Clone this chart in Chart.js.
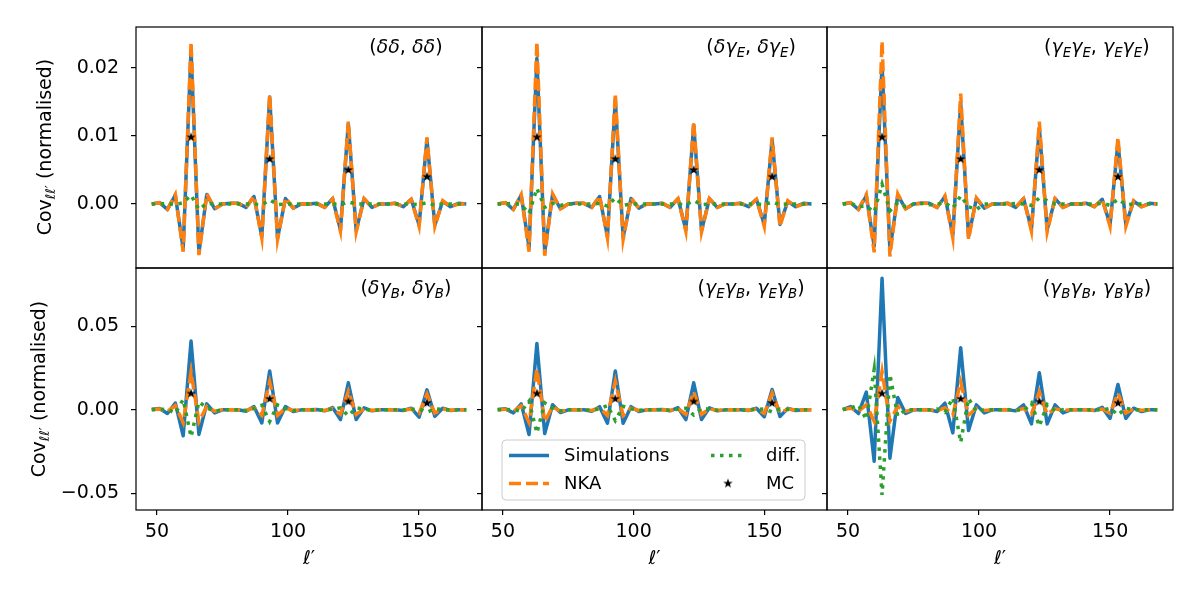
<!DOCTYPE html>
<html>
<head>
<meta charset="utf-8">
<script src="https://cdn.jsdelivr.net/npm/chart.js@4.4.0/dist/chart.umd.min.js"></script>
<style>
  body { margin: 0; background: #fff; }
  #fig { position: relative; width: 1200px; height: 600px; font-family: "DejaVu Sans", sans-serif; color: #000; }
  #fig canvas { position: absolute; left: 0; top: 0; }
  .ptitle, .xlab { position: absolute; font-size: 19px; white-space: nowrap; transform: translate(-50%, -50%); z-index: 10; }
  .ylab { position: absolute; font-size: 19px; white-space: nowrap; transform: translate(-50%, -50%) rotate(-90deg); z-index: 10; }
  sub { font-size: 70%; vertical-align: -0.3em; line-height: 0; }
</style>
</head>
<body>
<div id="fig"></div>
<script>
// multipoles l' (bin centres)
const ell = [48, 51, 54, 57, 60, 63, 66, 69, 72, 75, 78, 81, 84, 87, 90, 93, 96, 99, 102, 105,
  108, 111, 114, 117, 120, 123, 126, 129, 132, 135, 138, 141, 144, 147, 150, 153, 156, 159, 162, 165, 168]

// MC points
const mcEll = [63, 93, 123, 153]
const mcValues = [0.0098, 0.0066, 0.0050, 0.0040]

// (dd, dd)
const simDD = [0.0000, 0.0002, -0.0008, 0.0013, -0.0066, 0.0226, -0.0072, 0.0014, -0.0007, 0.0000,
  0.0001, 0.0001, -0.0005, 0.0011, -0.0048, 0.0157, -0.0050, 0.0008, -0.0006, 0.0000,
  0.0000, 0.0001, -0.0005, 0.0008, -0.0038, 0.0118, -0.0039, 0.0008, -0.0005, 0.0000,
  0.0000, 0.0001, -0.0004, 0.0007, -0.0031, 0.0095, -0.0031, 0.0004, -0.0004, 0.0001, 0.0000]
const nkaDD = [0.0000, 0.0002, -0.0008, 0.0014, -0.0070, 0.0238, -0.0075, 0.0015, -0.0007, 0.0000,
  0.0001, 0.0001, -0.0005, 0.0012, -0.0050, 0.0161, -0.0052, 0.0009, -0.0006, 0.0000,
  0.0000, 0.0001, -0.0005, 0.0008, -0.0040, 0.0121, -0.0041, 0.0008, -0.0005, 0.0000,
  0.0000, 0.0001, -0.0004, 0.0007, -0.0033, 0.0098, -0.0033, 0.0005, -0.0004, 0.0000, 0.0000]
const diffDD = [0.0000, 0.0000, 0.0001, -0.0001, 0.0002, 0.0013, -0.0008, 0.0001, 0.0000, 0.0000,
  0.0000, 0.0000, 0.0000, 0.0000, -0.0001, 0.0006, -0.0001, 0.0000, 0.0000, 0.0000,
  0.0000, 0.0000, 0.0000, 0.0000, -0.0001, 0.0003, 0.0000, 0.0000, 0.0000, 0.0000,
  0.0000, 0.0000, 0.0000, 0.0000, -0.0001, 0.0002, -0.0002, 0.0000, 0.0000, 0.0000, 0.0000]

// (d gE, d gE)
const simDE = [0.0000, 0.0002, -0.0008, 0.0013, -0.0064, 0.0214, -0.0071, 0.0014, -0.0007, 0.0000,
  0.0001, 0.0001, -0.0005, 0.0011, -0.0048, 0.0153, -0.0049, 0.0008, -0.0006, 0.0000,
  0.0000, 0.0001, -0.0005, 0.0008, -0.0038, 0.0116, -0.0039, 0.0008, -0.0005, 0.0000,
  0.0000, 0.0001, -0.0004, 0.0007, -0.0030, 0.0094, -0.0030, 0.0004, -0.0004, 0.0001, 0.0000]
const nkaDE = [0.0000, 0.0002, -0.0008, 0.0014, -0.0070, 0.0238, -0.0076, 0.0015, -0.0007, 0.0000,
  0.0001, 0.0001, -0.0005, 0.0012, -0.0050, 0.0162, -0.0052, 0.0009, -0.0006, 0.0000,
  0.0000, 0.0001, -0.0005, 0.0008, -0.0040, 0.0121, -0.0041, 0.0008, -0.0005, 0.0000,
  0.0000, 0.0001, -0.0004, 0.0007, -0.0033, 0.0098, -0.0033, 0.0005, -0.0004, 0.0000, 0.0000]
const diffDE = [0.0000, 0.0000, 0.0001, -0.0001, -0.0014, 0.0023, -0.0005, 0.0001, -0.0002, 0.0000,
  0.0000, 0.0000, 0.0000, 0.0001, -0.0003, 0.0009, -0.0002, 0.0000, 0.0000, 0.0000,
  0.0000, 0.0000, 0.0000, 0.0000, -0.0001, 0.0005, -0.0001, 0.0000, 0.0000, 0.0000,
  0.0000, 0.0000, 0.0000, 0.0000, -0.0001, 0.0003, -0.0001, 0.0000, 0.0000, 0.0000, 0.0000]

// (gE gE, gE gE)
const simEE = [0.0000, 0.0002, -0.0008, 0.0012, -0.0062, 0.0205, -0.0068, 0.0013, -0.0007, 0.0000,
  0.0001, 0.0001, -0.0005, 0.0011, -0.0046, 0.0148, -0.0048, 0.0008, -0.0006, 0.0000,
  0.0000, 0.0001, -0.0005, 0.0008, -0.0037, 0.0112, -0.0038, 0.0008, -0.0005, 0.0000,
  0.0000, 0.0001, -0.0004, 0.0007, -0.0030, 0.0091, -0.0030, 0.0004, -0.0004, 0.0001, 0.0000]
const nkaEE = [0.0000, 0.0002, -0.0008, 0.0014, -0.0071, 0.0239, -0.0077, 0.0015, -0.0007, 0.0000,
  0.0001, 0.0001, -0.0005, 0.0012, -0.0050, 0.0162, -0.0052, 0.0009, -0.0006, 0.0000,
  0.0000, 0.0001, -0.0005, 0.0008, -0.0040, 0.0121, -0.0041, 0.0008, -0.0005, 0.0000,
  0.0000, 0.0001, -0.0004, 0.0007, -0.0033, 0.0098, -0.0033, 0.0005, -0.0004, 0.0000, 0.0000]
const diffEE = [0.0000, 0.0001, -0.0004, -0.0003, -0.0012, 0.0029, -0.0010, 0.0002, -0.0004, 0.0000,
  0.0001, -0.0001, 0.0000, 0.0002, -0.0006, 0.0012, -0.0004, -0.0008, 0.0000, 0.0000,
  0.0000, 0.0000, 0.0001, 0.0000, -0.0002, 0.0009, 0.0005, 0.0000, 0.0000, 0.0000,
  0.0000, 0.0000, 0.0000, 0.0001, -0.0002, 0.0007, -0.0001, 0.0000, 0.0000, 0.0000, 0.0000]

// (d gB, d gB)
const simDB = [0.0003, 0.0008, -0.0022, 0.0041, -0.0155, 0.0412, -0.0147, 0.0036, -0.0018, 0.0000,
  0.0001, 0.0001, -0.0008, 0.0020, -0.0078, 0.0233, -0.0078, 0.0020, -0.0010, 0.0000,
  0.0000, 0.0002, -0.0006, 0.0014, -0.0058, 0.0162, -0.0058, 0.0012, -0.0006, 0.0000,
  0.0000, 0.0001, -0.0004, 0.0010, -0.0044, 0.0120, -0.0039, 0.0010, -0.0004, 0.0000, 0.0000]
const nkaDB = [0.0002, 0.0005, -0.0010, 0.0026, -0.0077, 0.0228, -0.0072, 0.0020, -0.0008, 0.0000,
  0.0000, 0.0001, -0.0004, 0.0012, -0.0033, 0.0168, -0.0033, 0.0010, -0.0004, 0.0000,
  0.0000, 0.0000, -0.0003, 0.0008, -0.0027, 0.0112, -0.0027, 0.0006, -0.0003, 0.0000,
  0.0000, 0.0000, -0.0002, 0.0005, -0.0021, 0.0095, -0.0019, 0.0005, -0.0002, 0.0000, 0.0000]
const diffDB = [0.0000, 0.0002, 0.0004, -0.0021, 0.0062, -0.0162, 0.0048, 0.0012, -0.0008, 0.0000,
  0.0000, 0.0000, -0.0004, 0.0008, 0.0028, -0.0070, 0.0030, 0.0008, -0.0004, 0.0000,
  0.0000, 0.0000, -0.0002, 0.0004, 0.0012, -0.0036, 0.0012, 0.0004, -0.0002, 0.0000,
  0.0000, 0.0000, -0.0001, 0.0003, 0.0006, -0.0014, 0.0006, 0.0002, 0.0000, 0.0000, 0.0000]

// (gE gB, gE gB)
const simEB = [0.0002, 0.0006, -0.0018, 0.0036, -0.0148, 0.0398, -0.0142, 0.0031, -0.0016, 0.0000,
  0.0001, 0.0001, -0.0008, 0.0019, -0.0080, 0.0233, -0.0080, 0.0019, -0.0010, 0.0000,
  0.0000, 0.0002, -0.0006, 0.0013, -0.0058, 0.0162, -0.0058, 0.0012, -0.0006, 0.0000,
  0.0000, 0.0001, -0.0004, 0.0010, -0.0041, 0.0122, -0.0040, 0.0009, -0.0004, 0.0000, 0.0000]
const nkaEB = [0.0001, 0.0004, -0.0010, 0.0024, -0.0075, 0.0245, -0.0070, 0.0019, -0.0008, 0.0000,
  0.0000, 0.0001, -0.0004, 0.0012, -0.0034, 0.0172, -0.0034, 0.0010, -0.0004, 0.0000,
  0.0000, 0.0000, -0.0003, 0.0008, -0.0027, 0.0108, -0.0027, 0.0006, -0.0003, 0.0000,
  0.0000, 0.0000, -0.0002, 0.0005, -0.0021, 0.0100, -0.0019, 0.0005, -0.0002, 0.0000, 0.0000]
const diffEB = [0.0000, 0.0001, 0.0003, -0.0010, 0.0052, -0.0138, 0.0042, 0.0010, -0.0006, 0.0000,
  0.0000, 0.0000, -0.0003, 0.0007, 0.0026, -0.0064, 0.0021, 0.0007, -0.0003, 0.0000,
  0.0000, 0.0000, -0.0002, 0.0004, 0.0010, -0.0031, 0.0010, 0.0004, -0.0002, 0.0000,
  0.0000, 0.0000, -0.0001, 0.0003, 0.0005, -0.0012, 0.0005, 0.0002, 0.0000, 0.0000, 0.0000]

// (gB gB, gB gB)
const simBB = [0.0002, 0.0020, -0.0022, 0.0106, -0.0308, 0.0788, -0.0290, 0.0074, -0.0022, 0.0000,
  0.0000, 0.0001, -0.0010, 0.0040, -0.0138, 0.0372, -0.0124, 0.0030, -0.0018, 0.0000,
  0.0000, 0.0001, -0.0006, 0.0030, -0.0084, 0.0222, -0.0084, 0.0030, -0.0018, 0.0000,
  0.0000, 0.0001, -0.0004, 0.0015, -0.0051, 0.0152, -0.0051, 0.0010, -0.0010, 0.0000, 0.0000]
const nkaBB = [0.0002, 0.0010, -0.0008, 0.0030, -0.0068, 0.0230, -0.0067, 0.0020, -0.0008, 0.0000,
  0.0000, 0.0001, -0.0004, 0.0012, -0.0031, 0.0168, -0.0031, 0.0010, -0.0004, 0.0000,
  0.0000, 0.0000, -0.0003, 0.0008, -0.0026, 0.0108, -0.0026, 0.0006, -0.0003, 0.0000,
  0.0000, 0.0000, -0.0002, 0.0005, -0.0021, 0.0099, -0.0019, 0.0005, -0.0002, 0.0000, 0.0000]
const diffBB = [0.0002, 0.0010, 0.0030, -0.0058, 0.0242, -0.0510, 0.0212, -0.0038, 0.0002, 0.0000,
  0.0000, 0.0000, 0.0005, -0.0015, 0.0072, -0.0195, 0.0068, -0.0010, 0.0000, 0.0000,
  0.0000, 0.0000, 0.0001, -0.0005, 0.0041, -0.0098, 0.0032, -0.0005, 0.0000, 0.0000,
  0.0000, 0.0000, 0.0001, -0.0002, 0.0010, -0.0031, 0.0010, 0.0000, 0.0000, 0.0000, 0.0000]

// tick labels
const xTicks = [50, 100, 150]
const yTicksTop = [0.00, 0.01, 0.02]
const yTicksBottom = [-0.05, 0.00, 0.05]

const panels = [
  {sim: simDD, nka: nkaDD, diff: diffDD, title: '(<i>δδ</i>, <i>δδ</i>)'},
  {sim: simDE, nka: nkaDE, diff: diffDE, title: '(<i>δγ<sub>E</sub></i>, <i>δγ<sub>E</sub></i>)'},
  {sim: simEE, nka: nkaEE, diff: diffEE, title: '(<i>γ<sub>E</sub>γ<sub>E</sub></i>, <i>γ<sub>E</sub>γ<sub>E</sub></i>)'},
  {sim: simDB, nka: nkaDB, diff: diffDB, title: '(<i>δγ<sub>B</sub></i>, <i>δγ<sub>B</sub></i>)'},
  {sim: simEB, nka: nkaEB, diff: diffEB, title: '(<i>γ<sub>E</sub>γ<sub>B</sub></i>, <i>γ<sub>E</sub>γ<sub>B</sub></i>)'},
  {sim: simBB, nka: nkaBB, diff: diffBB, title: '(<i>γ<sub>B</sub>γ<sub>B</sub></i>, <i>γ<sub>B</sub>γ<sub>B</sub></i>)'}
]

// layout of the 2x3 grid (pixels)
const colEdges = [136, 482, 827, 1173]
const rowEdges = [27, 268, 510]
const yRanges = [[-0.0094, 0.0260], [-0.0600, 0.0850]]
const Wy = 80, Hx = 40
const FONT = "'DejaVu Sans', sans-serif"

function makeStar(r){
    const c = document.createElement("canvas")
    const s = Math.ceil(r * 2 + 2)
    c.width = s; c.height = s
    const g = c.getContext("2d")
    g.translate(s / 2, s / 2)
    g.beginPath()
    for(let k = 0; k < 10; k++){
        const rad = k % 2 ? r * 0.4 : r
        const ang = -Math.PI / 2 + k * Math.PI / 5
        g.lineTo(rad * Math.cos(ang), rad * Math.sin(ang))
    }
    g.closePath()
    g.fillStyle = "#000"
    g.fill()
    return c
}
const star = makeStar(5)

const framePlugin = {
    id: "frame",
    afterDatasetsDraw(chart){
        const {ctx, chartArea: a} = chart
        ctx.save()
        ctx.strokeStyle = "#000"
        ctx.lineWidth = 1.2
        ctx.strokeRect(a.left, a.top, a.right - a.left, a.bottom - a.top)
        ctx.restore()
    }
}

// legend box drawn inside one panel, two columns like matplotlib ncol=2
const boxLegend = {
    id: "boxLegend",
    afterDraw(chart, args, opts){
        if(!opts.show) return
        const {ctx, chartArea: a} = chart
        const x0 = a.left + 20, y0 = a.top + 172, w = 303, h = 60
        ctx.save()
        ctx.beginPath()
        ctx.roundRect(x0, y0, w, h, 4)
        ctx.fillStyle = "rgba(255,255,255,0.8)"
        ctx.fill()
        ctx.strokeStyle = "#cccccc"
        ctx.lineWidth = 1
        ctx.stroke()
        const ds = l => chart.data.datasets.find(d => d.label === l)
        const items = [
            {label: "Simulations", col: 0, row: 0},
            {label: "NKA", col: 0, row: 1},
            {label: "diff.", col: 1, row: 0},
            {label: "MC", col: 1, row: 1}
        ]
        ctx.font = "18px " + FONT
        ctx.textBaseline = "middle"
        ctx.textAlign = "left"
        items.forEach(it => {
            const d = ds(it.label)
            const sx = x0 + (it.col ? 209 : 7)
            const sy = y0 + 15.5 + it.row * 28
            if(d.showLine === false){
                ctx.drawImage(star, sx + 17 - star.width / 2, sy - star.height / 2)
            }else{
                ctx.beginPath()
                ctx.setLineDash(d.borderDash || [])
                ctx.strokeStyle = d.borderColor
                ctx.lineWidth = d.borderWidth
                ctx.moveTo(sx, sy)
                ctx.lineTo(sx + 40 - (it.col ? 5 : 0), sy)
                ctx.stroke()
                ctx.setLineDash([])
            }
            ctx.fillStyle = "#000"
            ctx.fillText(it.label, sx + 55, sy + 1)
        })
        ctx.restore()
    }
}

const fig = document.getElementById("fig")

function makePanel(idx){
    const p = panels[idx]
    const r = Math.floor(idx / 3), c = idx % 3
    const left = colEdges[c], right = colEdges[c + 1]
    const top = rowEdges[r], bottom = rowEdges[r + 1]
    const canvas = document.createElement("canvas")
    canvas.width = 1200; canvas.height = 600
    fig.appendChild(canvas)

    const pts = arr => ell.map((x, k) => ({x: x, y: arr[k]}))
    const yTicks = r === 0 ? yTicksTop : yTicksBottom
    const tickGrid = {drawOnChartArea: false, drawTicks: true, tickLength: 5, color: "#000", lineWidth: 1.2}
    const lw = 3.5

    new Chart(canvas, {
        type: "line",
        data: {
            datasets: [
                {label: "MC", data: mcEll.map((x, k) => ({x: x, y: mcValues[k]})), showLine: false,
                 pointStyle: star, pointRadius: 5, order: 0},
                {label: "diff.", data: pts(p.diff), borderColor: "#2ca02c", borderWidth: lw,
                 borderDash: [3.5, 5.5], pointRadius: 0, order: 1},
                {label: "NKA", data: pts(p.nka), borderColor: "#ff7f0e", borderWidth: lw,
                 borderDash: [12, 5], pointRadius: 0, order: 2},
                {label: "Simulations", data: pts(p.sim), borderColor: "#1f77b4", borderWidth: lw,
                 borderJoinStyle: "round", pointRadius: 0, order: 3}
            ]
        },
        options: {
            responsive: false,
            animation: false,
            devicePixelRatio: 1,
            layout: {padding: {
                left: left - Wy, top: top, right: 1200 - right,
                bottom: r === 1 ? 600 - bottom - Hx : 600 - bottom
            }},
            plugins: {legend: {display: false}, tooltip: {enabled: false}, boxLegend: {show: idx === 4}},
            scales: {
                x: {
                    type: "linear", min: 42, max: 174,
                    display: r === 1,
                    afterBuildTicks: s => { s.ticks = xTicks.map(v => ({value: v})) },
                    afterFit: s => { s.height = r === 1 ? Hx : 0 },
                    grid: tickGrid,
                    border: {display: false},
                    ticks: {color: "#000", font: {family: FONT, size: 19}, padding: 6, maxRotation: 0,
                            callback: v => String(v)}
                },
                y: {
                    type: "linear", min: yRanges[r][0], max: yRanges[r][1],
                    afterBuildTicks: s => { s.ticks = yTicks.map(v => ({value: v})) },
                    afterFit: s => { s.width = Wy },
                    grid: tickGrid,
                    border: {display: false},
                    ticks: {display: c === 0, color: "#000", font: {family: FONT, size: 19}, padding: 12,
                            callback: v => v.toFixed(2).replace("-", "\u2212")}
                }
            }
        },
        plugins: [framePlugin, boxLegend]
    })

    const t = document.createElement("div")
    t.className = "ptitle"
    t.innerHTML = p.title
    t.style.left = (left + 0.78 * (right - left)) + "px"
    t.style.top = (top + 19) + "px"
    fig.appendChild(t)

    if(r === 1){
        const xl = document.createElement("div")
        xl.className = "xlab"
        xl.innerHTML = '<i>ℓ</i>′'
        xl.style.left = ((left + right) / 2) + "px"
        xl.style.top = "557px"
        fig.appendChild(xl)
    }
}

panels.forEach((p, i) => makePanel(i))

// y axis labels
const ylabY = [147, 389], ylabX = [44, 38]
ylabY.forEach((y, r) => {
    const d = document.createElement("div")
    d.className = "ylab"
    d.innerHTML = 'Cov<sub><i>ℓℓ</i>′</sub> (normalised)'
    d.style.left = ylabX[r] + "px"
    d.style.top = y + "px"
    fig.appendChild(d)
})
</script>
</body>
</html>
